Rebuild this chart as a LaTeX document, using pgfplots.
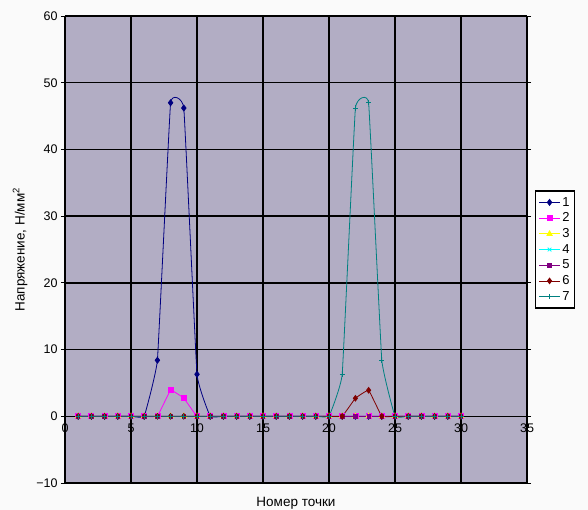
\documentclass[border=0pt]{standalone}
\usepackage{pgfplots}
\pgfplotsset{compat=1.18}
\usepackage{fontspec}
\setmainfont{Liberation Sans}
\definecolor{plotbg}{RGB}{178,173,196}
\definecolor{pagebg}{RGB}{250,250,250}
\definecolor{s1}{RGB}{0,0,128}
\definecolor{s2}{RGB}{255,0,255}
\definecolor{s3}{RGB}{255,255,0}
\definecolor{s4}{RGB}{0,255,255}
\definecolor{s5}{RGB}{128,0,128}
\definecolor{s6}{RGB}{128,0,0}
\definecolor{s7}{RGB}{0,128,128}
\pgfplotstableread{
x s1 s2 s3 s4 s5 s6 s7
1 0 0 0 0 0 0 0
2 0 0 0 0 0 0 0
3 0 0 0 0 0 0 0
4 0 0 0 0 0 0 0
5 0 0 0 0 0 0 0
6 0 0 0 0 0 0 0
7 8.4 0 0 0 0 0 0
8 47 3.9 0 0 0 0 0
9 46.2 2.7 0 0 0 0 0
10 6.3 0 0 0 0 0 0
11 0 0 0 0 0 0 0
12 0 0 0 0 0 0 0
13 0 0 0 0 0 0 0
14 0 0 0 0 0 0 0
15 0 0 0 0 0 0 0
16 0 0 0 0 0 0 0
17 0 0 0 0 0 0 0
18 0 0 0 0 0 0 0
19 0 0 0 0 0 0 0
20 0 0 0 0 0 0 0
21 0 0 0 0 0 0 6.3
22 0 0 0 0 0 2.7 46.2
23 0 0 0 0 0 3.9 47
24 0 0 0 0 0 0 8.4
25 0 0 0 0 0 0 0
26 0 0 0 0 0 0 0
27 0 0 0 0 0 0 0
28 0 0 0 0 0 0 0
29 0 0 0 0 0 0 0
30 0 0 0 0 0 0 0
}\datatable
\begin{document}
\begin{tikzpicture}
\fill[pagebg] (-65pt,-27pt) rectangle (523pt,483pt);
\path[use as bounding box] (-65pt,-27pt) rectangle (523pt,483pt);
\begin{axis}[
  at={(0pt,0pt)}, anchor=south west,
  scale only axis, width=462pt, height=467pt,
  xmin=0, xmax=35, ymin=-10, ymax=60,
  xtick={0,5,...,35}, ytick={-10,0,...,60},
  xticklabels={0,5,10,15,20,25,30,35},
  yticklabels={−10,0,10,20,30,40,50,60},
  tick label style={font=\fontsize{12.5}{14}\selectfont},
  xticklabel style={anchor=north, yshift=67pt},
  grid=major,
  major grid style={black, line width=1.3pt},
  axis background/.style={fill=plotbg},
  axis line style={draw=none},
  tick align=outside,
  xtick style={draw=none},
  ytick style={black, line width=0.8pt},
  major tick length=4pt,
  xlabel={Номер точки},
  ylabel={Напряжение, Н/мм\textsuperscript{2}},
  label style={font=\fontsize{13.5}{15}\selectfont},
  xlabel style={at={(axis description cs:0.5,0)}, anchor=north, yshift=-11pt},
  ylabel style={at={(axis description cs:0,0.5)}, anchor=south, yshift=34pt},
  legend style={at={(1,0.5)}, anchor=west, xshift=8pt, draw=black, line width=1.3pt,
    font=\fontsize{13}{13}\selectfont, fill=white, inner xsep=3pt, inner ysep=4pt,
    row sep=1.2pt, cells={anchor=west}},
  legend image code/.code={\draw[mark repeat=2,mark phase=2,line width=0.8pt] plot coordinates {(0pt,0pt)(10.5pt,0pt)(21pt,0pt)};},
  every axis plot/.append style={line width=0.8pt, smooth, tension=0.14},
]
\draw[black, line width=1.3pt] (axis cs:0,-10) -- (axis cs:0,60);
\draw[black, line width=1.3pt] (axis cs:0,0) -- (axis cs:35,0);
\addplot[s1, mark=diamond*, mark size=3pt] table[x=x,y=s1]{\datatable};
\addlegendentry{1}
\addplot[s2, mark=square*, mark size=2.5pt] table[x=x,y=s2]{\datatable};
\addlegendentry{2}
\addplot[s3, mark=triangle*, mark size=3pt] table[x=x,y=s3]{\datatable};
\addlegendentry{3}
\addplot[s4, mark=x, mark size=2.6pt] table[x=x,y=s4]{\datatable};
\addlegendentry{4}
\addplot[s5, mark=square*, mark size=1.7pt] table[x=x,y=s5]{\datatable};
\addlegendentry{5}
\addplot[s6, mark=diamond*, mark size=2.8pt] table[x=x,y=s6]{\datatable};
\addlegendentry{6}
\addplot[s7, mark=+, mark size=2.6pt] table[x=x,y=s7]{\datatable};
\addlegendentry{7}
\end{axis}
\end{tikzpicture}
\end{document}
